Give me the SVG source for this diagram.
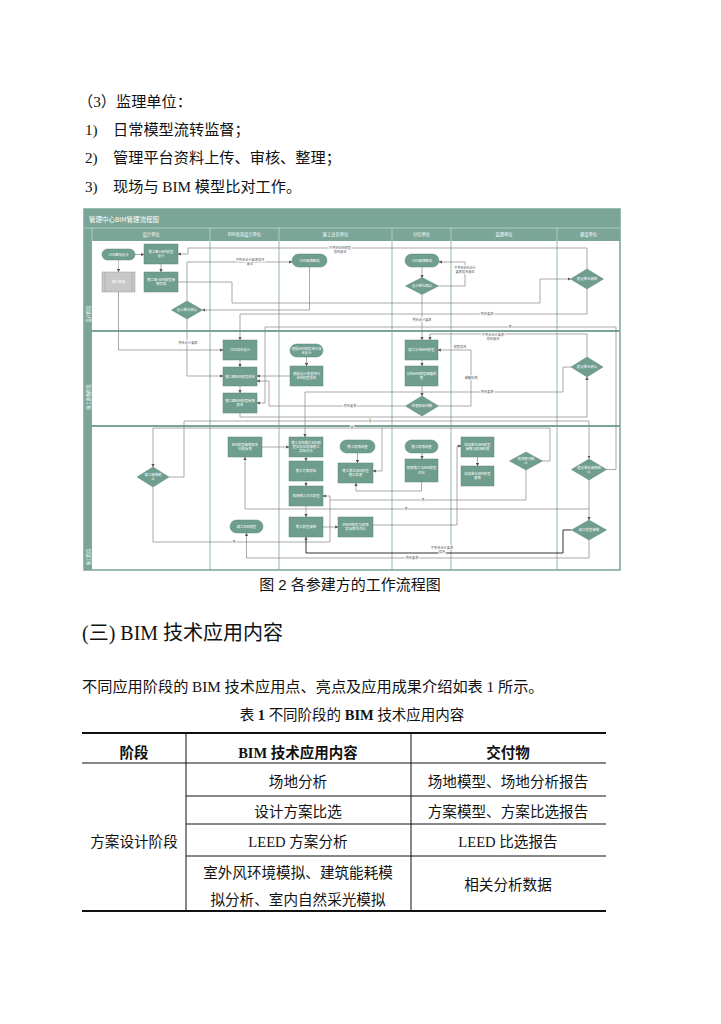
<svg xmlns="http://www.w3.org/2000/svg" width="721" height="1024" viewBox="0 0 721 1024">
<defs>
<style>
.b{font-family:"Liberation Serif","Noto Sans CJK SC",serif;font-size:15.2px;fill:#111}
.hd{font-family:"Liberation Sans","Noto Sans CJK SC",sans-serif;font-size:15px;fill:#111}
.tc{font-family:"Liberation Serif","Noto Sans CJK SC",serif;font-size:14.6px;fill:#111;text-anchor:middle}
.th{font-family:"Liberation Serif","Noto Sans CJK SC",sans-serif;font-size:14.5px;font-weight:bold;fill:#111;text-anchor:middle}
.tl{stroke:#111;stroke-width:1}
.tk{stroke:#111;stroke-width:2}
.nd{fill:#6f9d8e;stroke:#5b8a7a;stroke-width:0.5}
.gy{fill:#c8c8c8;stroke:#9a9a9a;stroke-width:0.5}
.nt{font-family:"Noto Sans CJK SC",sans-serif;font-size:3.4px;fill:#fff;text-anchor:middle}
.ht{font-family:"Noto Sans CJK SC",sans-serif;font-size:4.3px;fill:#fff;text-anchor:middle}
.cn{fill:none;stroke:#858585;stroke-width:0.7;marker-end:url(#ah)}
.cp{fill:none;stroke:#858585;stroke-width:0.7}
.ck{fill:none;stroke:#333;stroke-width:1;marker-end:url(#ah)}
.lb{font-family:"Noto Sans CJK SC",sans-serif;font-size:3.2px;fill:#555;text-anchor:middle;stroke:#fff;stroke-width:1.4;paint-order:stroke}
.cl{stroke:#7aa597;stroke-width:0.8}
.rl{stroke:#7aa597;stroke-width:1.8}
.wl{stroke:#d8e6e1;stroke-width:0.6}
</style>
<marker id="ah" viewBox="0 0 6 6" refX="5.5" refY="3" markerWidth="3.2" markerHeight="3.2" orient="auto" markerUnits="userSpaceOnUse"><path d="M0,0 L6,3 L0,6z" fill="#555"/></marker>
</defs>
<rect width="721" height="1024" fill="#fff"/>

<g id="intro-text">
<text class="b" x="78" y="107">（3）监理单位：</text>
<text class="b" x="85" y="135">1)</text><text class="b" x="113" y="135">日常模型流转监督；</text>
<text class="b" x="85" y="163">2)</text><text class="b" x="113" y="163">管理平台资料上传、审核、整理；</text>
<text class="b" x="85" y="192">3)</text><text class="b" x="113" y="192">现场与 BIM 模型比对工作。</text>
</g>

<g id="flowchart-frame">
<rect x="84" y="209" width="536" height="361" fill="#fff" stroke="#7aa597" stroke-width="1.5"/>
<rect x="84" y="209" width="536" height="19" fill="#7aa597"/>
<rect x="84" y="228" width="536" height="13" fill="#7aa597"/>
<rect x="84" y="228" width="8" height="342" fill="#7aa597"/>
<line class="wl" x1="84" y1="228" x2="620" y2="228"/>
<line class="wl" x1="92" y1="228" x2="92" y2="241"/>
<line class="wl" x1="210" y1="228" x2="210" y2="241"/>
<line class="wl" x1="279" y1="228" x2="279" y2="241"/>
<line class="wl" x1="392" y1="228" x2="392" y2="241"/>
<line class="wl" x1="451" y1="228" x2="451" y2="241"/>
<line class="wl" x1="557" y1="228" x2="557" y2="241"/>
<line class="cl" x1="210" y1="241" x2="210" y2="570"/>
<line class="cl" x1="279" y1="241" x2="279" y2="570"/>
<line class="cl" x1="392" y1="241" x2="392" y2="570"/>
<line class="cl" x1="451" y1="241" x2="451" y2="570"/>
<line class="cl" x1="557" y1="241" x2="557" y2="570"/>
<line class="rl" x1="84" y1="331" x2="620" y2="331"/>
<line class="rl" x1="84" y1="426" x2="620" y2="426"/>
<text x="89" y="221.5" font-family="Noto Sans CJK SC, sans-serif" font-size="6.5" fill="#fff">管理中心BIM管理流程图</text>
<text class="ht" x="151" y="236.3">设计单位</text>
<text class="ht" x="244.5" y="236.3">BIM咨询设计单位</text>
<text class="ht" x="335.5" y="236.3">施工总包单位</text>
<text class="ht" x="421.5" y="236.3">分包单位</text>
<text class="ht" x="504" y="236.3">监理单位</text>
<text class="ht" x="588.5" y="236.3">建设单位</text>
<text class="ht" transform="translate(89.6,314) rotate(-90)">设计阶段</text>
<text class="ht" transform="translate(89.6,397) rotate(-90)">施工准备阶段</text>
<text class="ht" transform="translate(89.6,557) rotate(-90)">施工阶段</text>
</g>

<g id="connectors">
<path class="cn" d="M135,254.5 H144"/>
<path class="cn" d="M118.5,260 V272" style="stroke:#aaa"/>
<path class="cn" d="M118.5,292 V350 H223"/>
<path class="cn" d="M161,264 V272"/>
<path class="cn" d="M587,269 V248 H188 V254 H178"/>
<path class="cn" d="M187,301 V262 H292"/>
<path class="cn" d="M178,282 H232 V303 H540 V279 H570.5"/>
<path class="cn" d="M309.5,267 V310 H202.5"/>
<path class="cn" d="M422,267 V278"/>
<path class="cn" d="M438.5,286 H465 V262 H439"/>
<path class="cn" d="M422,294.5 V340"/>
<path class="cn" d="M587,289 V314 H240 V340"/>
<path class="cn" d="M606.5,469.5 H616 V327 H265 V403 H257"/>
<path class="cn" d="M587,357 V334 H430 V340"/>
<path class="cn" d="M290,376 H257"/>
<path class="cn" d="M306.5,357 V366"/>
<path class="cn" d="M240,360 V367"/>
<path class="cn" d="M240,386 V393"/>
<path class="cn" d="M240,413 V417 H587 V377"/>
<path class="cn" d="M187,319 V376 H223"/>
<path class="cn" d="M422,360 V366"/>
<path class="cn" d="M422,386 V396"/>
<path class="cn" d="M438.5,406 H471 V350 H438"/>
<path class="cn" d="M571,367 H563 V392 H305 V437"/>
<path class="cn" d="M405.5,406 H269 V381 H257"/>
<path class="cn" d="M169,477 H184 V421 H589 V458.5"/>
<path class="cn" d="M542.5,461 H550 V428 H153 V467"/>
<path class="cn" d="M382,428 V471 H373"/>
<path class="cn" d="M262,447 H289"/>
<path class="cn" d="M306,457 V461"/>
<path class="cn" d="M306,481 V486"/>
<path class="cn" d="M306,506 V517"/>
<path class="cn" d="M357.5,453 V463"/>
<path class="cn" d="M422,453 V459"/>
<path class="cn" d="M477.5,457 V466"/>
<path class="cn" d="M323,527 H338"/>
<path class="cn" d="M373,525 H457 V446 H461"/>
<path class="cn" d="M421.5,482 V491 H356 V483"/>
<path class="cn" d="M589,479.5 V509 H245 V457"/>
<path class="cn" d="M589,509 V520"/>
<path class="cn" d="M526,470 V500 H330 V496 H323"/>
<path class="cp" d="M153,487 V542 H330 V500"/>
<path class="cn" d="M589,540 V558 H246.5 V533"/>
<path class="ck" d="M571.5,530 H563 V553 H306 V537"/>
<text class="lb" x="250" y="260.5">不符合设计要求修改</text>
<text class="lb" x="250" y="264.5">意见</text>
<text class="lb" x="340" y="249">不符合BIM模型</text>
<text class="lb" x="340" y="253">修改意见</text>
<text class="lb" x="465" y="269">不符合BIM设计</text>
<text class="lb" x="465" y="273">要求修改意见</text>
<text class="lb" x="422" y="321">符合设计要求</text>
<text class="lb" x="487" y="315">符合要求</text>
<text class="lb" x="510" y="328">否</text>
<text class="lb" x="493" y="335.5">不符合设计要求</text>
<text class="lb" x="493" y="339.5">修改意见</text>
<text class="lb" x="188" y="344">符合设计要求</text>
<text class="lb" x="460" y="348">模型修改</text>
<text class="lb" x="471" y="379">碰撞检测</text>
<text class="lb" x="487" y="393">符合要求</text>
<text class="lb" x="350" y="407">符合要求</text>
<text class="lb" x="370" y="422">是</text>
<text class="lb" x="352" y="429">否</text>
<text class="lb" x="406" y="510">否</text>
<text class="lb" x="423" y="501">否</text>
<text class="lb" x="234" y="543">否</text>
<text class="lb" x="412" y="559">符合要求</text>
<text class="lb" x="442" y="549">不符合设计要求</text>
<text class="lb" x="442" y="553">修改</text>
</g>

<g id="n1"><rect class="nd" x="102" y="249" width="33" height="11" rx="5.5"/><text class="nt" x="118.5" y="255.8">CAD图纸设计</text></g>
<g id="n2"><rect class="nd" x="144" y="244" width="34" height="20"/><text class="nt" x="161" y="252.9">施工图+BIM模型</text><text class="nt" x="161" y="257.3">设计</text></g>
<g id="n3"><rect class="nd" x="144" y="272" width="34" height="20"/><text class="nt" x="161" y="280.9">施工图+BIM模型审</text><text class="nt" x="161" y="285.3">核完成</text></g>
<g id="n4"><rect class="gy" x="102" y="272" width="33" height="20"/><line x1="105" y1="272" x2="105" y2="292" stroke="#9a9a9a" stroke-width="0.5"/><line x1="132" y1="272" x2="132" y2="292" stroke="#9a9a9a" stroke-width="0.5"/><text class="nt" x="118.5" y="283.2">施工图审</text></g>
<g id="n5"><polygon class="nd" points="171.5,310 187,301 202.5,310 187,319"/><text class="nt" x="187" y="311.2">设计单位确认</text></g>
<g id="n6"><rect class="nd" x="292" y="254" width="35" height="13" rx="6.5"/><text class="nt" x="309.5" y="261.7">CAD审核图纸</text></g>
<g id="n7"><rect class="nd" x="405" y="254" width="34" height="13" rx="6.5"/><text class="nt" x="422" y="261.7">CAD审核图纸</text></g>
<g id="n8"><polygon class="nd" points="405.5,286 422,277.5 438.5,286 422,294.5"/><text class="nt" x="422" y="287.2">设计单位确认</text></g>
<g id="n9"><polygon class="nd" points="570.5,279 587,269 603.5,279 587,289"/><text class="nt" x="587" y="280.2">建设单位审核</text></g>
<g id="n10"><rect class="nd" x="223" y="340" width="34" height="20"/><text class="nt" x="240" y="351.2">CAD深化设计</text></g>
<g id="n11"><rect class="nd" x="223" y="367" width="34" height="19"/><text class="nt" x="240" y="377.7">施工图BIM模型深化</text></g>
<g id="n12"><rect class="nd" x="223" y="393" width="34" height="20"/><text class="nt" x="240" y="401.9">施工图BIM模型审核</text><text class="nt" x="240" y="406.3">报告</text></g>
<g id="n13"><rect class="nd" x="290" y="344" width="33" height="13" rx="6.5"/><text class="nt" x="306.5" y="349.6">根据BIM模型进行深</text><text class="nt" x="306.5" y="353.9">化设计</text></g>
<g id="n14"><rect class="nd" x="290" y="366" width="33" height="20"/><text class="nt" x="306.5" y="374.9">根据设计变更进行</text><text class="nt" x="306.5" y="379.3">BIM模型修改</text></g>
<g id="n15"><rect class="nd" x="405" y="340" width="33" height="20"/><text class="nt" x="421.5" y="351.2">建立分包BIM模型</text></g>
<g id="n16"><rect class="nd" x="405" y="366" width="33" height="20"/><text class="nt" x="421.5" y="374.9">分包BIM模型碰撞检</text><text class="nt" x="421.5" y="379.3">查</text></g>
<g id="n17"><polygon class="nd" points="405.5,406 422,396 438.5,406 422,416"/><text class="nt" x="422" y="407.2">检查结果判断</text></g>
<g id="n18"><polygon class="nd" points="571,367 587,357 603,367 587,377"/><text class="nt" x="587" y="368.2">建设单位确认</text></g>
<g id="n19"><polygon class="nd" points="137,477 153,467 169,477 153,487"/><text class="nt" x="153" y="476">竣工审核确</text><text class="nt" x="153" y="480.4">认</text></g>
<g id="n20"><rect class="nd" x="228" y="437" width="34" height="20"/><text class="nt" x="245" y="445.9">BIM模型审核报告</text><text class="nt" x="245" y="450.3">问题反馈</text></g>
<g id="n21"><rect class="nd" x="289" y="437" width="34" height="20"/><text class="nt" x="306" y="443.6">施工总包施工BIM模</text><text class="nt" x="306" y="447.8">型深化及现场施工</text><text class="nt" x="306" y="452">实际对比</text></g>
<g id="n22"><rect class="nd" x="289" y="461" width="34" height="20"/><text class="nt" x="306" y="472.2">施工方案模拟</text></g>
<g id="n23"><rect class="nd" x="289" y="486" width="34" height="20"/><text class="nt" x="306" y="497.2">现场施工对比模型</text></g>
<g id="n24"><rect class="nd" x="289" y="517" width="34" height="20"/><text class="nt" x="306" y="528.2">施工模型审核</text></g>
<g id="n25"><rect class="nd" x="230" y="520" width="33" height="13" rx="6.5"/><text class="nt" x="246.5" y="527.7">竣工BIM模型</text></g>
<g id="n26"><rect class="nd" x="340" y="440" width="35" height="13" rx="6.5"/><text class="nt" x="357.5" y="447.7">施工现场检查</text></g>
<g id="n27"><rect class="nd" x="338" y="463" width="35" height="20"/><text class="nt" x="355.5" y="471.9">施工单位BIM模型</text><text class="nt" x="355.5" y="476.3">施工检查</text></g>
<g id="n28"><rect class="nd" x="338" y="517" width="35" height="20"/><text class="nt" x="355.5" y="525.9">将BIM模型与现场</text><text class="nt" x="355.5" y="530.3">实际情况对比</text></g>
<g id="n29"><rect class="nd" x="405" y="440" width="33" height="13" rx="6.5"/><text class="nt" x="421.5" y="447.7">施工现场检查</text></g>
<g id="n30"><rect class="nd" x="405" y="459" width="33" height="23"/><text class="nt" x="421.5" y="469.4">现场施工与BIM模型</text><text class="nt" x="421.5" y="473.8">对比</text></g>
<g id="n31"><rect class="nd" x="461" y="437" width="33" height="20"/><text class="nt" x="477.5" y="445.9">监理单位BIM模型</text><text class="nt" x="477.5" y="450.3">审核与现场检查</text></g>
<g id="n32"><rect class="nd" x="461" y="466" width="33" height="20"/><text class="nt" x="477.5" y="474.9">监理单位BIM模型</text><text class="nt" x="477.5" y="479.3">复核</text></g>
<g id="n33"><polygon class="nd" points="509.5,461 526,452 542.5,461 526,470"/><text class="nt" x="526" y="460">现场情况确</text><text class="nt" x="526" y="464.4">认</text></g>
<g id="n34"><polygon class="nd" points="571.5,469.5 589,459 606.5,469.5 589,480"/><text class="nt" x="589" y="468.5">建设单位审核确</text><text class="nt" x="589" y="472.9">认</text></g>
<g id="n35"><polygon class="nd" points="571.5,530 589,520 606.5,530 589,540"/><text class="nt" x="589" y="531.2">竣工模型审核</text></g>

<g id="captions">
<text class="hd" x="350" y="590" text-anchor="middle">图 2 各参建方的工作流程图</text>
<text x="82" y="640" font-family="Liberation Serif, Noto Sans CJK SC, serif" font-size="20" fill="#111">(三) BIM 技术应用内容</text>
<text class="b" x="82" y="692">不同应用阶段的 BIM 技术应用点、亮点及应用成果介绍如表 1 所示。</text>
<text x="352" y="720" font-family="Liberation Serif, Noto Sans CJK SC, sans-serif" font-size="14.5" fill="#111" text-anchor="middle">表 <tspan font-weight="bold">1</tspan> 不同阶段的 <tspan font-weight="bold">BIM</tspan> 技术应用内容</text>
</g>

<g id="table">
<line class="tk" x1="82" y1="733" x2="606" y2="733"/>
<line class="tl" x1="82" y1="763" x2="606" y2="763"/>
<line class="tl" x1="186" y1="733" x2="186" y2="911"/>
<line class="tl" x1="411" y1="733" x2="411" y2="911"/>
<line class="tl" x1="186" y1="796" x2="606" y2="796"/>
<line class="tl" x1="186" y1="824" x2="606" y2="824"/>
<line class="tl" x1="186" y1="856" x2="606" y2="856"/>
<line class="tk" x1="82" y1="911" x2="606" y2="911"/>
<text class="th" x="134" y="758">阶段</text>
<text class="th" x="298" y="758">BIM 技术应用内容</text>
<text class="th" x="508" y="758">交付物</text>
<text class="tc" x="298" y="787">场地分析</text>
<text class="tc" x="508" y="787">场地模型、场地分析报告</text>
<text class="tc" x="298" y="817">设计方案比选</text>
<text class="tc" x="508" y="817">方案模型、方案比选报告</text>
<text class="tc" x="134" y="847">方案设计阶段</text>
<text class="tc" x="298" y="847">LEED  方案分析</text>
<text class="tc" x="508" y="847">LEED  比选报告</text>
<text class="tc" x="298" y="878">室外风环境模拟、建筑能耗模</text>
<text class="tc" x="298" y="905">拟分析、室内自然采光模拟</text>
<text class="tc" x="508" y="890">相关分析数据</text>
</g>
</svg>
